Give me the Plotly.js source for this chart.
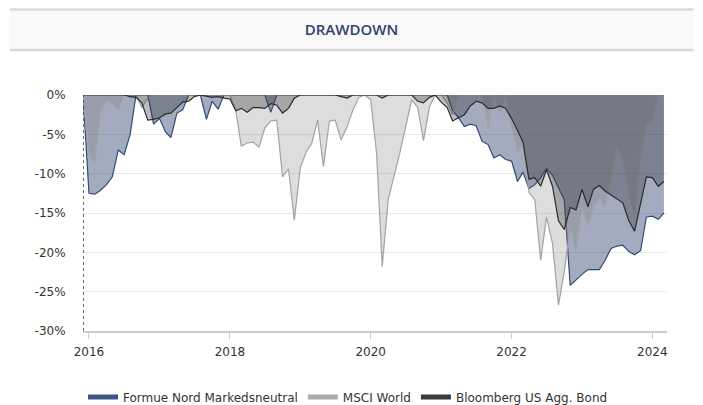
<!DOCTYPE html>
<html>
<head>
<meta charset="utf-8">
<script src="https://cdn.plot.ly/plotly-3.0.1.min.js"></script>
<style>
  html, body { margin: 0; padding: 0; background: #ffffff; }
  #chart { width: 703px; height: 405px; }
</style>
</head>
<body>
<div id="chart"></div>
<script>
// ---- data (monthly drawdown, %), first month = Dec 2015 ----
const startMonth = [2015, 12];
const seriesNames = ["Formue Nord Markedsneutral", "MSCI World", "Bloomberg US Agg. Bond"];

const formue = [
  0, -12.5, -12.6, -12.1, -11.4, -10.4, -7.0, -7.6, -5.1, 0,
  0, 0, -3.7, -3.0, -4.7, -5.4, -2.3, -1.9, 0, 0,
  0, -3.1, -0.8, -1.8, 0, 0, 0, 0, 0, 0,
  0, 0, -2.2, 0, 0, 0, 0, 0, 0, 0,
  0, 0, 0, 0, 0, 0, 0, 0, 0, 0,
  0, 0, 0, 0, 0, 0, 0, 0, 0, 0,
  0, 0, 0, -2.0, -2.9, -4.0, -3.7, -3.9, -5.9, -6.3,
  -8.0, -7.6, -8.2, -8.4, -11.0, -9.8, -11.9, -11.4, -10.5, -9.3,
  -10.2, -11.8, -13.3, -24.2, -23.5, -22.8, -22.2, -22.2, -22.2, -21.0,
  -19.5, -19.2, -19.1, -19.9, -20.3, -19.8, -15.5, -15.4, -15.8, -15.0
];

const msci = [
  0, -7.7, -8.7, -2.1, -0.8, -1.1, -1.9, 0, 0, 0,
  -1.6, -0.4, 0, 0, 0, 0, 0, 0, 0, 0,
  0, 0, 0, 0, 0, 0, -2.1, -6.5, -6.1, -6.0,
  -6.6, -4.2, -3.3, -3.2, -10.4, -9.4, -15.9, -9.3, -7.2, -6.2,
  -3.2, -9.1, -3.3, -3.2, -5.7, -4.0, -1.9, -0.3, 0, -0.6,
  -7.5, -21.8, -13.3, -10.5, -7.3, -4.0, -0.6, -1.6, -5.8, -1.5,
  0, 0, -1.0, -2.5, 0, 0, 0, 0, 0, -4.2,
  0, -2.3, 0, -4.0, -7.2, -5.9, -12.4, -13.3, -21.0, -15.5,
  -18.9, -26.7, -22.5, -16.8, -19.8, -14.2, -16.6, -14.2, -13.1, -14.2,
  -10.7, -6.3, -8.2, -12.6, -15.6, -8.0, -3.8, -3.2, 0, 0
];

const bloomberg = [
  0, 0, 0, 0, 0, 0, 0, 0, -0.2, -0.3,
  -1.0, -3.2, -3.1, -2.9, -2.4, -2.3, -1.6, -0.9, -0.8, -0.2,
  0, -0.2, -0.3, -0.2, -0.4, -0.5, -2.0, -1.7, -2.2, -1.6,
  -1.6, -1.7, -1.1, -1.3, -2.3, -1.7, -0.4, 0, 0, 0,
  0, 0, 0, 0, -0.2, -0.4, 0, 0, 0, 0,
  0, -0.4, 0, 0, 0, 0, 0, -0.8, -1.0, -0.3,
  0, -0.9, -1.6, -3.3, -2.9, -2.5, -1.4, -0.8, -1.0, -1.7,
  -1.7, -1.4, -1.7, -3.0, -4.5, -6.0, -10.7, -10.5, -11.6, -9.5,
  -11.6, -16.0, -17.1, -14.3, -14.6, -12.0, -14.2, -12.0, -11.5, -12.2,
  -12.7, -13.2, -13.7, -16.0, -17.3, -13.8, -10.4, -10.5, -11.6, -11.0
];

const yTickVals = [0, -5, -10, -15, -20, -25, -30];
const yTickText = ["0%", "-5%", "-10%", "-15%", "-20%", "-25%", "-30%"];

// ---- month dates ----
function monthDates(start, n) {
  const out = [];
  let y = start[0], m = start[1];
  for (let i = 0; i < n; i++) {
    out.push(y + "-" + String(m).padStart(2, "0") + "-01");
    m++; if (m > 12) { m = 1; y++; }
  }
  return out;
}
const dates = monthDates(startMonth, formue.length);

const lineColors = ["#2f4a7a", "#a3a3a3", "#2a2a2a"];
const fillColors = ["rgba(50,68,110,0.45)", "rgba(120,120,120,0.25)", "rgba(30,30,34,0.29)"];
const legendColors = ["#3b5584", "#ababab", "#3a3a3a"];
const values = [formue, msci, bloomberg];

const traces = [];
values.forEach((v, k) => {
  traces.push({
    x: dates, y: v, type: "scatter", mode: "lines",
    fill: "tozeroy", fillcolor: fillColors[k],
    line: { color: lineColors[k], width: 1.2 },
    name: seriesNames[k], showlegend: false, hoverinfo: "x+y"
  });
});
seriesNames.forEach((nm, k) => {
  traces.push({
    x: [null], y: [null], type: "scatter", mode: "lines",
    line: { color: legendColors[k], width: 5 },
    name: nm, showlegend: true
  });
});

const font = "DejaVu Sans, Verdana, sans-serif";

const layout = {
  width: 703, height: 405,
  margin: { l: 83, r: 36, t: 95, b: 74 },
  paper_bgcolor: "#ffffff", plot_bgcolor: "#ffffff",
  font: { family: font, size: 12, color: "#333333" },
  title: {
    text: "DRAWDOWN",
    font: { family: "Open Sans, sans-serif", size: 15, color: "#2d436b", weight: 600 },
    x: 0.5, xref: "container", xanchor: "center",
    y: 1 - 30 / 405, yref: "container", yanchor: "middle"
  },
  xaxis: {
    type: "date",
    range: ["2015-12-01", "2024-03-17"],
    tick0: "2016-01-01", dtick: "M24", tickformat: "%Y",
    ticks: "outside", ticklen: 6, tickcolor: "#cccccc",
    ticklabelstandoff: 3,
    showgrid: false, zeroline: false,
    showline: true, linecolor: "#cccccc", linewidth: 1.5,
    tickfont: { family: font, size: 12, color: "#333333" },
    fixedrange: true
  },
  yaxis: {
    range: [-30, 0],
    tickvals: yTickVals, ticktext: yTickText,
    ticks: "outside", ticklen: 14, tickcolor: "rgba(0,0,0,0)",
    showgrid: true, gridcolor: "#e8e8e8", gridwidth: 1,
    zeroline: false, showline: false,
    tickfont: { family: font, size: 12, color: "#333333" },
    fixedrange: true
  },
  showlegend: true,
  legend: {
    orientation: "h",
    xref: "container", yref: "container",
    x: 0.495, xanchor: "center",
    y: 1 - 397 / 405, yanchor: "middle",
    font: { family: font, size: 12, color: "#333333" },
    itemwidth: 30, tracegroupgap: 0,
    bgcolor: "rgba(0,0,0,0)"
  },
  shapes: [
    { type: "rect", xref: "paper", yref: "paper",
      x0: (10 - 83) / 583.7, x1: (693 - 83) / 583.7,
      y0: (331 - 50) / 236, y1: (331 - 9) / 236,
      fillcolor: "#f9f9f9", line: { width: 0 }, layer: "below" },
    { type: "line", xref: "paper", yref: "paper",
      x0: (10 - 83) / 583.7, x1: (693 - 83) / 583.7,
      y0: (331 - 9.5) / 236, y1: (331 - 9.5) / 236,
      line: { color: "#d9d9d9", width: 2.5 } },
    { type: "line", xref: "paper", yref: "paper",
      x0: (10 - 83) / 583.7, x1: (693 - 83) / 583.7,
      y0: (331 - 50) / 236, y1: (331 - 50) / 236,
      line: { color: "#d9d9d9", width: 2.5 } },
    { type: "line", xref: "x", yref: "paper",
      x0: dates[0], x1: dates[0], y0: 0, y1: 1,
      line: { color: "#444444", width: 1.6, dash: "dot" }, layer: "above" }
  ]
};

Plotly.newPlot("chart", traces, layout, { displayModeBar: false, staticPlot: true });
</script>
</body>
</html>
